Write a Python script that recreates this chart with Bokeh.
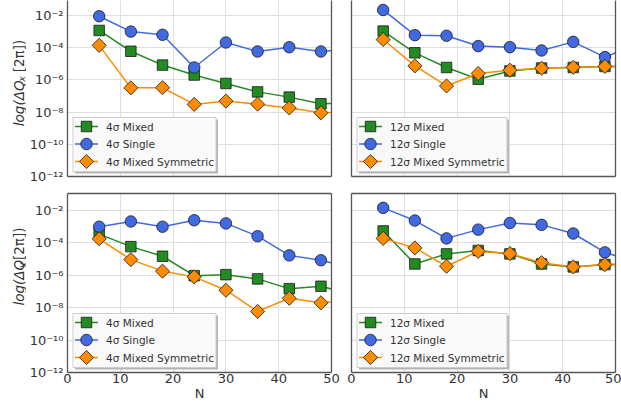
import math

from bokeh.core.properties import value
from bokeh.embed import file_html
from bokeh.layouts import column, row
from bokeh.models import (CustomJSTickFormatter, FixedTicker, LinearAxis,
                          LinearScale, Range1d)
from bokeh.plotting import figure
from bokeh.resources import INLINE

# ---------------------------------------------------------------- data
N = [6, 12, 18, 24, 30, 36, 42, 48, 54]

# horizontal tune shift, 4 sigma
dqx_4_mixed = [1.17e-3, 6.0e-5, 8.3e-6, 2.0e-6, 6.0e-7, 1.8e-7, 8.5e-8, 3.3e-8, 3.5e-8]
dqx_4_single = [9.0e-3, 1.0e-3, 6.3e-4, 5.9e-6, 2.1e-4, 5.8e-5, 1.07e-4, 5.8e-5, 9.0e-5]
dqx_4_sym = [1.4e-4, 3.2e-7, 3.3e-7, 3.0e-8, 4.8e-8, 3.1e-8, 1.8e-8, 9.0e-9, 1.0e-8]

# horizontal tune shift, 12 sigma
dqx_12_mixed = [1.07e-3, 4.8e-5, 5.9e-6, 1.1e-6, 3.6e-6, 5.4e-6, 5.9e-6, 6.8e-6, 7.0e-6]
dqx_12_single = [2.2e-2, 6.0e-4, 5.5e-4, 1.26e-4, 1.08e-4, 6.7e-5, 2.3e-4, 2.6e-5, 1.6e-4]
dqx_12_sym = [3.2e-4, 7.4e-6, 4.2e-7, 2.5e-6, 4.0e-6, 5.3e-6, 6.1e-6, 6.8e-6, 7.0e-6]

# vertical tune shift, 4 sigma
dqy_4_mixed = [3.5e-4, 5.9e-5, 1.5e-5, 9.5e-7, 1.1e-6, 6.0e-7, 1.5e-7, 2.1e-7, 6.6e-8]
dqy_4_single = [1.0e-3, 2.1e-3, 1.0e-3, 2.5e-3, 1.6e-3, 2.6e-4, 1.7e-5, 8.5e-6, 2.7e-6]
dqy_4_sym = [1.8e-4, 9.3e-6, 1.8e-6, 8.0e-7, 1.2e-7, 5.9e-9, 3.8e-8, 2.0e-8, 3.2e-8]

# vertical tune shift, 12 sigma
dqy_12_mixed = [5.5e-4, 5.0e-6, 2.1e-5, 3.4e-5, 2.1e-5, 5.0e-6, 3.3e-6, 4.6e-6, 4.6e-6]
dqy_12_single = [1.46e-2, 2.4e-3, 1.9e-4, 6.6e-4, 1.7e-3, 1.3e-3, 3.8e-4, 2.6e-5, 6.3e-6]
dqy_12_sym = [1.9e-4, 4.9e-5, 3.6e-6, 3.0e-5, 2.2e-5, 6.0e-6, 3.3e-6, 4.6e-6, 4.6e-6]

x_ticks = [0, 10, 20, 30, 40, 50]
y_ticks = [1e-12, 1e-10, 1e-8, 1e-6, 1e-4, 1e-2]

# ---------------------------------------------------------------- style
FONT = "DejaVu Sans"
TEXT = "#333333"
FRAME = "#555555"
GRID = "#dedede"
TITLE_W = 26

SERIES = [
    # name, colour, marker, size, angle
    ("Mixed", "#228B22", "square", 10.5, 0.0),
    ("Single", "#4169E1", "circle", 11.5, 0.0),
    ("Mixed Symmetric", "#FF8C00", "square", 10.0, math.pi / 4),
]

SUPER = {"-": "\u207b", "0": "\u2070", "1": "\u00b9", "2": "\u00b2", "3": "\u00b3",
         "4": "\u2074", "5": "\u2075", "6": "\u2076", "7": "\u2077", "8": "\u2078",
         "9": "\u2079"}

pow10_formatter_code = """
const sup = %s;
const e = Math.round(Math.log10(tick));
return "10" + String(e).split("").map(c => sup[c]).join("");
""" % str(SUPER).replace("'", '"')


def y_title(height, center, sub):
    """Narrow strip holding the rotated y-axis title with a real subscript."""
    t = figure(width=TITLE_W, height=height, output_backend="svg", toolbar_location=None,
               x_range=Range1d(0, TITLE_W), y_range=Range1d(0, height),
               x_axis_location=None, y_axis_location=None,
               min_border=0, outline_line_color=None)
    t.grid.visible = False
    fs, fs_sub = 13.5, 9.5
    w1 = 3.386 * fs + 1      # "log(ΔQ"
    w2 = 0.592 * fs_sub      # subscript letter
    gap = 0.318 * fs         # word space before the bracket
    w3 = 2.408 * fs          # "[2π])"
    y0 = center - (w1 + w2 + gap + w3) / 2
    xc = 18
    pieces = [("log(\u0394Q", fs, "italic", 0.0, 0.0),
              (sub, fs_sub, "italic", 3.0, w1),
              ("[2\u03c0])", fs, "normal", 0.0, w1 + w2 + gap)]
    for txt, size, style, dx, off in pieces:
        t.text([xc + dx], [y0 + off], text=[txt], angle=math.pi / 2,
               text_font=value(FONT), text_font_size=f"{size}px",
               text_font_style=style, text_color=TEXT,
               text_align="left", text_baseline="middle")
    return t


def make_panel(values, sigma, left, bottom, top_log):
    mbl = 67 - TITLE_W if left else 10
    mbr = 10 if left else 6
    mbt = 8 if bottom else 0
    mbb = 36 if bottom else 9
    width = (341 - TITLE_W) if left else 280
    height = 223 if bottom else 185
    fw = width - mbl - mbr
    fh = height - mbt - mbb

    p = figure(width=width, height=height, output_backend="svg", toolbar_location=None,
               x_range=Range1d(0, 50), y_range=Range1d(1e-12, 10 ** top_log),
               y_axis_type="log", min_border_left=mbl, min_border_right=mbr,
               min_border_top=mbt, min_border_bottom=mbb)
    p.outline_line_color = None
    p.background_fill_color = "white"
    p.border_fill_color = "white"

    # pixel coordinate system for the in-frame legend
    p.extra_x_ranges = {"px": Range1d(0, fw)}
    p.extra_y_ranges = {"px": Range1d(0, fh)}
    p.extra_x_scales = {"px": LinearScale()}
    p.extra_y_scales = {"px": LinearScale()}

    # grid
    p.xgrid.ticker = FixedTicker(ticks=x_ticks)
    p.ygrid.ticker = FixedTicker(ticks=y_ticks)
    p.xgrid.grid_line_color = GRID
    p.ygrid.grid_line_color = GRID
    p.xgrid.grid_line_width = 1
    p.ygrid.grid_line_width = 1

    # axes (their lines also draw the frame)
    for ax in list(p.xaxis) + list(p.yaxis):
        ax.axis_line_color = FRAME
        ax.axis_line_width = 1.3
        ax.major_tick_line_color = None
        ax.minor_tick_line_color = None
        ax.major_tick_out = 0
        ax.major_tick_in = 0
        ax.minor_tick_out = 0
        ax.minor_tick_in = 0
        ax.axis_label_standoff = 0
        ax.major_label_text_font = FONT
        ax.major_label_text_font_size = "13px"
        ax.major_label_text_color = TEXT

    if bottom:
        p.xaxis.ticker = FixedTicker(ticks=x_ticks)
        p.xaxis.major_label_standoff = 1
        p.xaxis.axis_label = "N"
        p.xaxis.axis_label_text_font = FONT
        p.xaxis.axis_label_text_font_size = "13px"
        p.xaxis.axis_label_text_font_style = "normal"
        p.xaxis.axis_label_text_color = TEXT
        p.xaxis.axis_label_standoff = 0
    else:
        p.xaxis.ticker = FixedTicker(ticks=[])

    if left:
        p.yaxis.ticker = FixedTicker(ticks=y_ticks)
        p.yaxis.formatter = CustomJSTickFormatter(code=pow10_formatter_code)
        p.yaxis.major_label_standoff = 4
    else:
        p.yaxis.ticker = FixedTicker(ticks=[])

    sides = ["right"] + (["above"] if bottom else [])
    for side in sides:
        edge = LinearAxis(ticker=FixedTicker(ticks=[]), axis_line_color=FRAME,
                          axis_line_width=1.3, major_tick_line_color=None,
                          minor_tick_line_color=None)
        p.add_layout(edge, side)

    # series
    for (name, color, marker, size, angle), ys in zip(SERIES, values):
        p.line(N, ys, line_color=color, line_width=1.5)
        p.scatter(N, ys, marker=marker, size=size, angle=angle, fill_color=color,
                  line_color="#1a1a1a", line_width=0.8)

    # legend box with drop shadow
    labels = [f"{sigma}\u03c3 {name}" for name, *_ in SERIES]
    box_w = 143 if sigma == 4 else 150
    box_h = 54
    bx, by = 5.5, 5
    p.quad(left=[bx + 2], right=[bx + box_w + 2], bottom=[by - 2], top=[by + box_h - 2],
           fill_color="#b4b4b4", line_color=None, x_range_name="px", y_range_name="px")
    p.quad(left=[bx], right=[bx + box_w], bottom=[by], top=[by + box_h],
           fill_color="white", fill_alpha=0.92, line_color="#cccccc", line_width=1,
           x_range_name="px", y_range_name="px")
    for i, ((name, color, marker, size, angle), lab) in enumerate(zip(SERIES, labels)):
        yc = by + box_h - 9 - i * 17.5
        p.segment(x0=[bx + 2], y0=[yc], x1=[bx + 25], y1=[yc], line_color=color,
                  line_width=1.5, x_range_name="px", y_range_name="px")
        p.scatter([bx + 13.5], [yc], marker=marker, size=size, angle=angle,
                  fill_color=color, line_color="#1a1a1a", line_width=0.8,
                  x_range_name="px", y_range_name="px")
        p.text([bx + 33], [yc], text=[lab], text_font=value(FONT), text_font_size="10.5px",
               text_color=TEXT, text_baseline="middle", text_align="left",
               x_range_name="px", y_range_name="px")
    return p


p1 = make_panel([dqx_4_mixed, dqx_4_single, dqx_4_sym], 4, True, False, -1.07)
p2 = make_panel([dqx_12_mixed, dqx_12_single, dqx_12_sym], 12, False, False, -1.07)
p3 = make_panel([dqy_4_mixed, dqy_4_single, dqy_4_sym], 4, True, True, -0.95)
p4 = make_panel([dqy_12_mixed, dqy_12_single, dqy_12_sym], 12, False, True, -0.95)

t1 = y_title(185, 97.5, "x")
t3 = y_title(223, 128, "y")

page = column(row(t1, p1, p2), row(t3, p3, p4))

with open("out.html", "w") as f:
    f.write(file_html(page, INLINE))
